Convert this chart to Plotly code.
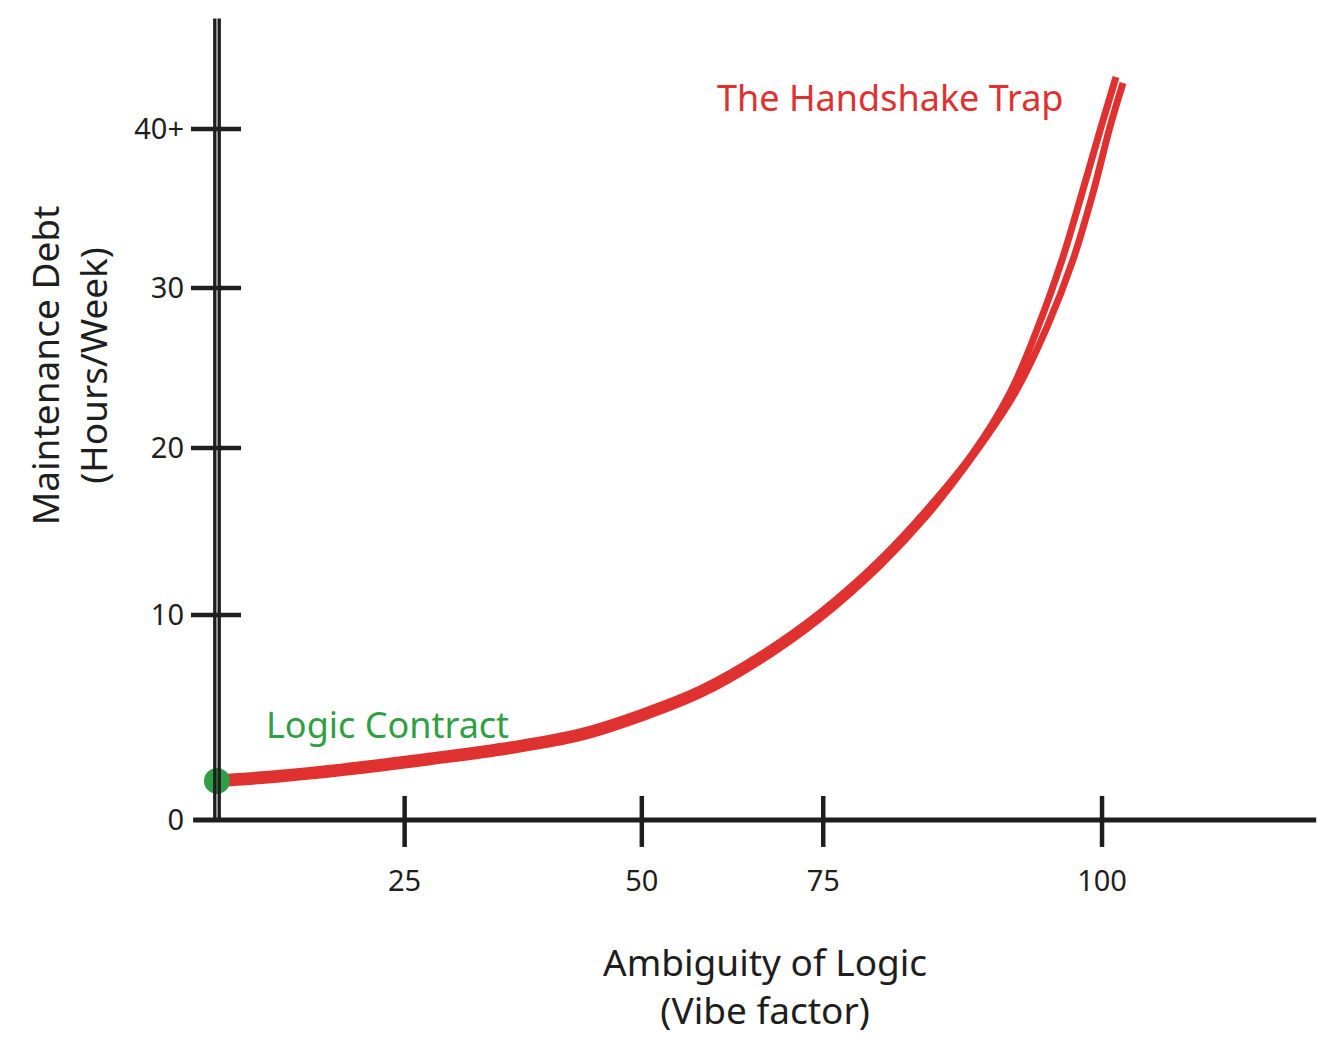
import plotly.graph_objects as go

# ---- data ----
# two hand-drawn strokes of the same curve
stroke_a_x = [0, 7.1, 14.2, 24.1, 33.1, 41.0, 48.1, 54.6, 61.4, 68.1, 74.9, 80.2,
              85.42, 89.60, 92.77, 95.48, 97.74, 99.89, 101.58]
stroke_a_y = [2.43, 2.70, 3.07, 3.70, 4.34, 5.09, 6.25, 7.58, 9.55, 11.98, 15.05, 17.95,
              21.24, 24.72, 28.54, 32.42, 36.30, 40.12, 43.01]
stroke_b_x = [0, 7.1, 14.2, 24.1, 33.1, 41.0, 48.1, 54.6, 61.4, 68.1, 74.9, 80.2,
              85.65, 90.17, 93.79, 96.72, 98.98, 100.90, 102.37]
stroke_b_y = [2.10, 2.37, 2.74, 3.37, 4.01, 4.76, 5.92, 7.25, 9.22, 11.65, 14.72, 17.62,
              21.24, 24.72, 28.54, 32.42, 36.30, 40.12, 42.66]

start_point_x = [0]
start_point_y = [2.26]

x_tick_vals = [21.2, 48.0, 68.5, 100]
x_tick_text = ["25", "50", "75", "100"]
y_tick_vals = [0, 11.87, 21.53, 30.80, 40]
y_tick_text = ["0", "10", "20", "30", "40+"]

label_trap = "The Handshake Trap"
label_contract = "Logic Contract"
x_title = "Ambiguity of Logic<br>(Vibe factor)"
y_title = "Maintenance Debt<br>(Hours/Week)"

# ---- styles ----
INK = "#1e1e1e"
RED = "#e03131"
GREEN = "#2f9e44"
FONT = "Noto Sans"

fig = go.Figure()
for xs, ys in ((stroke_b_x, stroke_b_y), (stroke_a_x, stroke_a_y)):
    fig.add_trace(go.Scatter(x=xs, y=ys, mode="lines",
                             line=dict(color=RED, width=7, shape="spline", smoothing=1.0),
                             hoverinfo="skip", showlegend=False))
fig.add_trace(go.Scatter(x=start_point_x, y=start_point_y, mode="markers",
                         marker=dict(color=GREEN, size=26),
                         hoverinfo="skip", showlegend=False))

shapes = []
# y axis: two parallel strokes
for off in (-2.2, 2.2):
    shapes.append(dict(type="line", xref="x", yref="y", xsizemode="pixel", xanchor=0,
                       x0=off, x1=off, y0=-0.1, y1=46.4,
                       line=dict(color=INK, width=3.4)))
# x axis
shapes.append(dict(type="line", xref="x", yref="y", x0=-2.7, x1=124.2, y0=0, y1=0,
                   line=dict(color=INK, width=5)))
# y tick marks (crossing the axis)
for v in y_tick_vals[1:]:
    shapes.append(dict(type="line", xref="x", yref="y", xsizemode="pixel", xanchor=0,
                       x0=-26, x1=24, y0=v, y1=v, line=dict(color=INK, width=4.5)))
# x tick marks
for v in x_tick_vals:
    shapes.append(dict(type="line", xref="x", yref="y", ysizemode="pixel", yanchor=0,
                       x0=v, x1=v, y0=-27, y1=24, line=dict(color=INK, width=4.5)))

annotations = [
    dict(x=76.05, y=41.85, xref="x", yref="y", text=label_trap, showarrow=False,
         font=dict(family=FONT, size=36, color=RED), xanchor="center", yanchor="middle"),
    dict(x=19.3, y=5.5, xref="x", yref="y", text=label_contract, showarrow=False,
         font=dict(family=FONT, size=36, color=GREEN), xanchor="center", yanchor="middle"),
    dict(x=0.509, y=-0.155, xref="paper", yref="paper", text=x_title, showarrow=False,
         font=dict(family=FONT, size=37, color=INK), xanchor="center", yanchor="middle"),
    dict(x=-0.107, y=0.583, xref="paper", yref="paper", text=y_title, showarrow=False,
         textangle=-90, font=dict(family=FONT, size=37, color=INK),
         xanchor="center", yanchor="middle"),
]

# page body has an 8px margin, so the figure is sized/offset to compensate
fig.update_layout(
    width=1328, height=1048,
    margin=dict(l=181, r=16, t=7, b=201),
    paper_bgcolor="white", plot_bgcolor="white",
    shapes=shapes, annotations=annotations,
    font=dict(family=FONT, color=INK),
    xaxis=dict(range=[-3.164, 124.63], showgrid=False, zeroline=False, showline=False,
               tickmode="array", tickvals=x_tick_vals, ticktext=x_tick_text,
               ticks="", tickfont=dict(size=29, color=INK), ticklabelstandoff=6),
    yaxis=dict(range=[-2.03, 46.6], showgrid=False, zeroline=False, showline=False,
               tickmode="array", tickvals=y_tick_vals, ticktext=y_tick_text,
               ticks="", tickfont=dict(size=29, color=INK), ticklabelstandoff=4),
)

fig.write_html("out.html")
